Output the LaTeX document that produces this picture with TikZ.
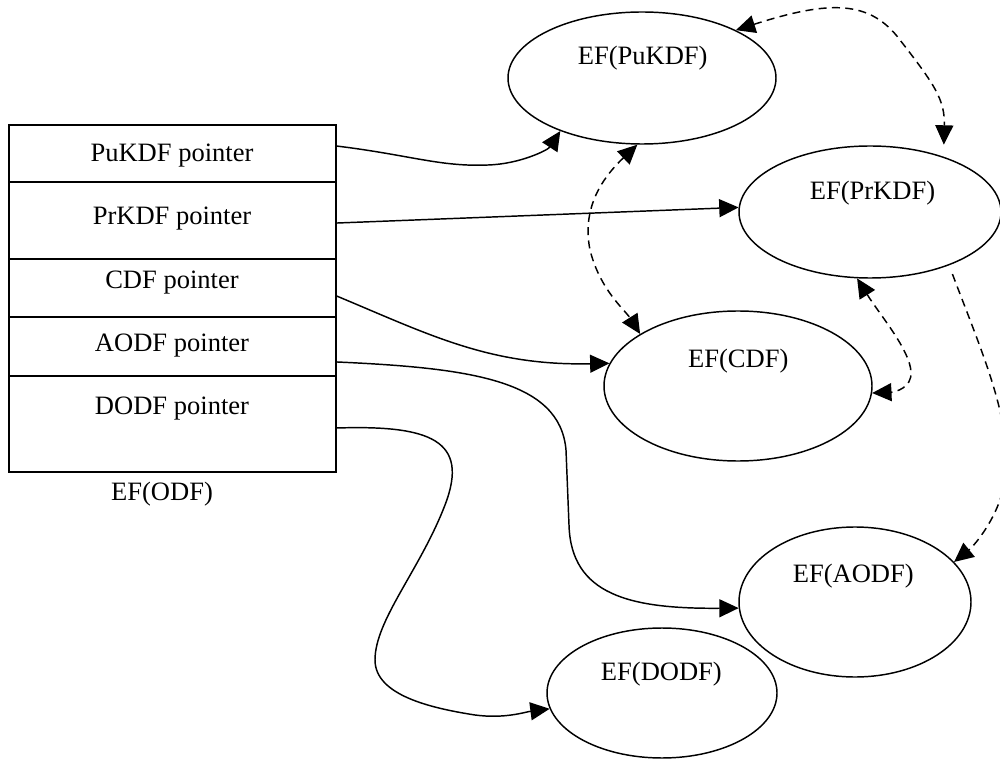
\documentclass[tikz,border=0pt]{standalone}
\usepackage{fontspec}
\setmainfont{Liberation Serif}
\usetikzlibrary{shapes.geometric,arrows.meta}
\begin{document}
\begin{tikzpicture}[x=0.75pt,y=-0.75pt,
  ln/.style={line width=1.1pt},
  ell/.style={ellipse, draw, ln, inner sep=0pt},
  rowbox/.style={rectangle, draw, ln, minimum width=245.25pt, inner sep=0pt},
  txt/.style={font=\fontsize{19.9}{24}\selectfont, anchor=base, inner sep=0pt},
  conn/.style={ln, -{Triangle[length=14.5pt,width=13.5pt]}},
  dconn/.style={ln, dash pattern=on 6pt off 4pt, -{Triangle[length=14.5pt,width=13.5pt]}},
  ddconn/.style={ln, dash pattern=on 6pt off 4pt, {Triangle[length=14.5pt,width=13.5pt]}-{Triangle[length=14.5pt,width=13.5pt]}},
]
\useasboundingbox (0,0) rectangle (1000,759);
\clip (0,0) rectangle (1000,759);

% EF(ODF) table
\node[rowbox, minimum height=42.75pt] (rowPu)   at (172.4,153.5) {};
\node[rowbox, minimum height=57.75pt] (rowPr)   at (172.4,220.5) {};
\node[rowbox, minimum height=43.5pt]  (rowCDF)  at (172.4,288) {};
\node[rowbox, minimum height=44.25pt] (rowAODF) at (172.4,346.5) {};
\node[rowbox, minimum height=72pt]    (rowDODF) at (172.4,424) {};
\node[txt] (tPu)   at (172,161.7) {PuKDF pointer};
\node[txt] (tPr)   at (172,225) {PrKDF pointer};
\node[txt] (tCDF)  at (172,289) {CDF pointer};
\node[txt] (tAODF) at (172,351.7) {AODF pointer};
\node[txt] (tDODF) at (172,414) {DODF pointer};
\node[txt] (tODF)  at (162,500.7) {EF(ODF)};

% ellipses
\node[ell, minimum width=201pt,   minimum height=99pt]    (ePu)   at (642,78) {};
\node[ell, minimum width=196.5pt, minimum height=99pt]    (ePr)   at (870,212) {};
\node[ell, minimum width=201pt,   minimum height=112.5pt] (eCDF)  at (738,386) {};
\node[ell, minimum width=174pt,   minimum height=112.5pt] (eAODF) at (855,602) {};
\node[ell, minimum width=172.5pt, minimum height=97.5pt]  (eDODF) at (662,693) {};
\node[txt] (lPu)   at (642.7,64.3)  {EF(PuKDF)};
\node[txt] (lPr)   at (872.5,199.3) {EF(PrKDF)};
\node[txt] (lCDF)  at (738.3,367.3) {EF(CDF)};
\node[txt] (lAODF) at (853.3,582.3) {EF(AODF)};
\node[txt] (lDODF) at (661.4,680.7) {EF(DODF)};

% solid pointers
\draw[conn] ([yshift=5.6pt]rowPu.east) .. controls (410,155) and (440,167) .. (488,165)
  .. controls (520,164) and (548,150) .. (ePu.213);
\draw[conn] ([yshift=-1.9pt]rowPr.east) -- (ePr.178);
\draw[conn] ([yshift=-6pt]rowCDF.east) .. controls (430,335) and (490,366) .. (eCDF.170);
\draw[conn] ([yshift=-11.6pt]rowAODF.east) .. controls (470,368) and (560,380) .. (566,450)
  -- (569,525) .. controls (571,595) and (630,609) .. (eAODF.183);
\draw[conn] ([yshift=-3pt]rowDODF.east) .. controls (430,425) and (470,440) .. (445,505)
  .. controls (420,570) and (375,620) .. (375,660)
  .. controls (375,695) and (430,708) .. (475,715)
  .. controls (505,719) and (525,712) .. (eDODF.188);

% dashed links
\draw[ddconn, shorten >=9pt] (ePu.27) .. controls (830,0) and (870,0) .. (900,40)
  .. controls (935,85) and (945,100) .. (ePr.37);
\draw[ddconn] (ePu.266) .. controls (600,180) and (582,210) .. (590,250)
  .. controls (600,290) and (625,310) .. (eCDF.152);
\draw[ddconn] (ePr.259) .. controls (880,315) and (910,350) .. (911,372)
  .. controls (912,388) and (895,392) .. (eCDF.-3);
\draw[dconn, shorten <=7pt] (ePr.-34) .. controls (985,360) and (1012,420) .. (1005,480)
  .. controls (1000,515) and (975,545) .. (eAODF.22);
\end{tikzpicture}
\end{document}
